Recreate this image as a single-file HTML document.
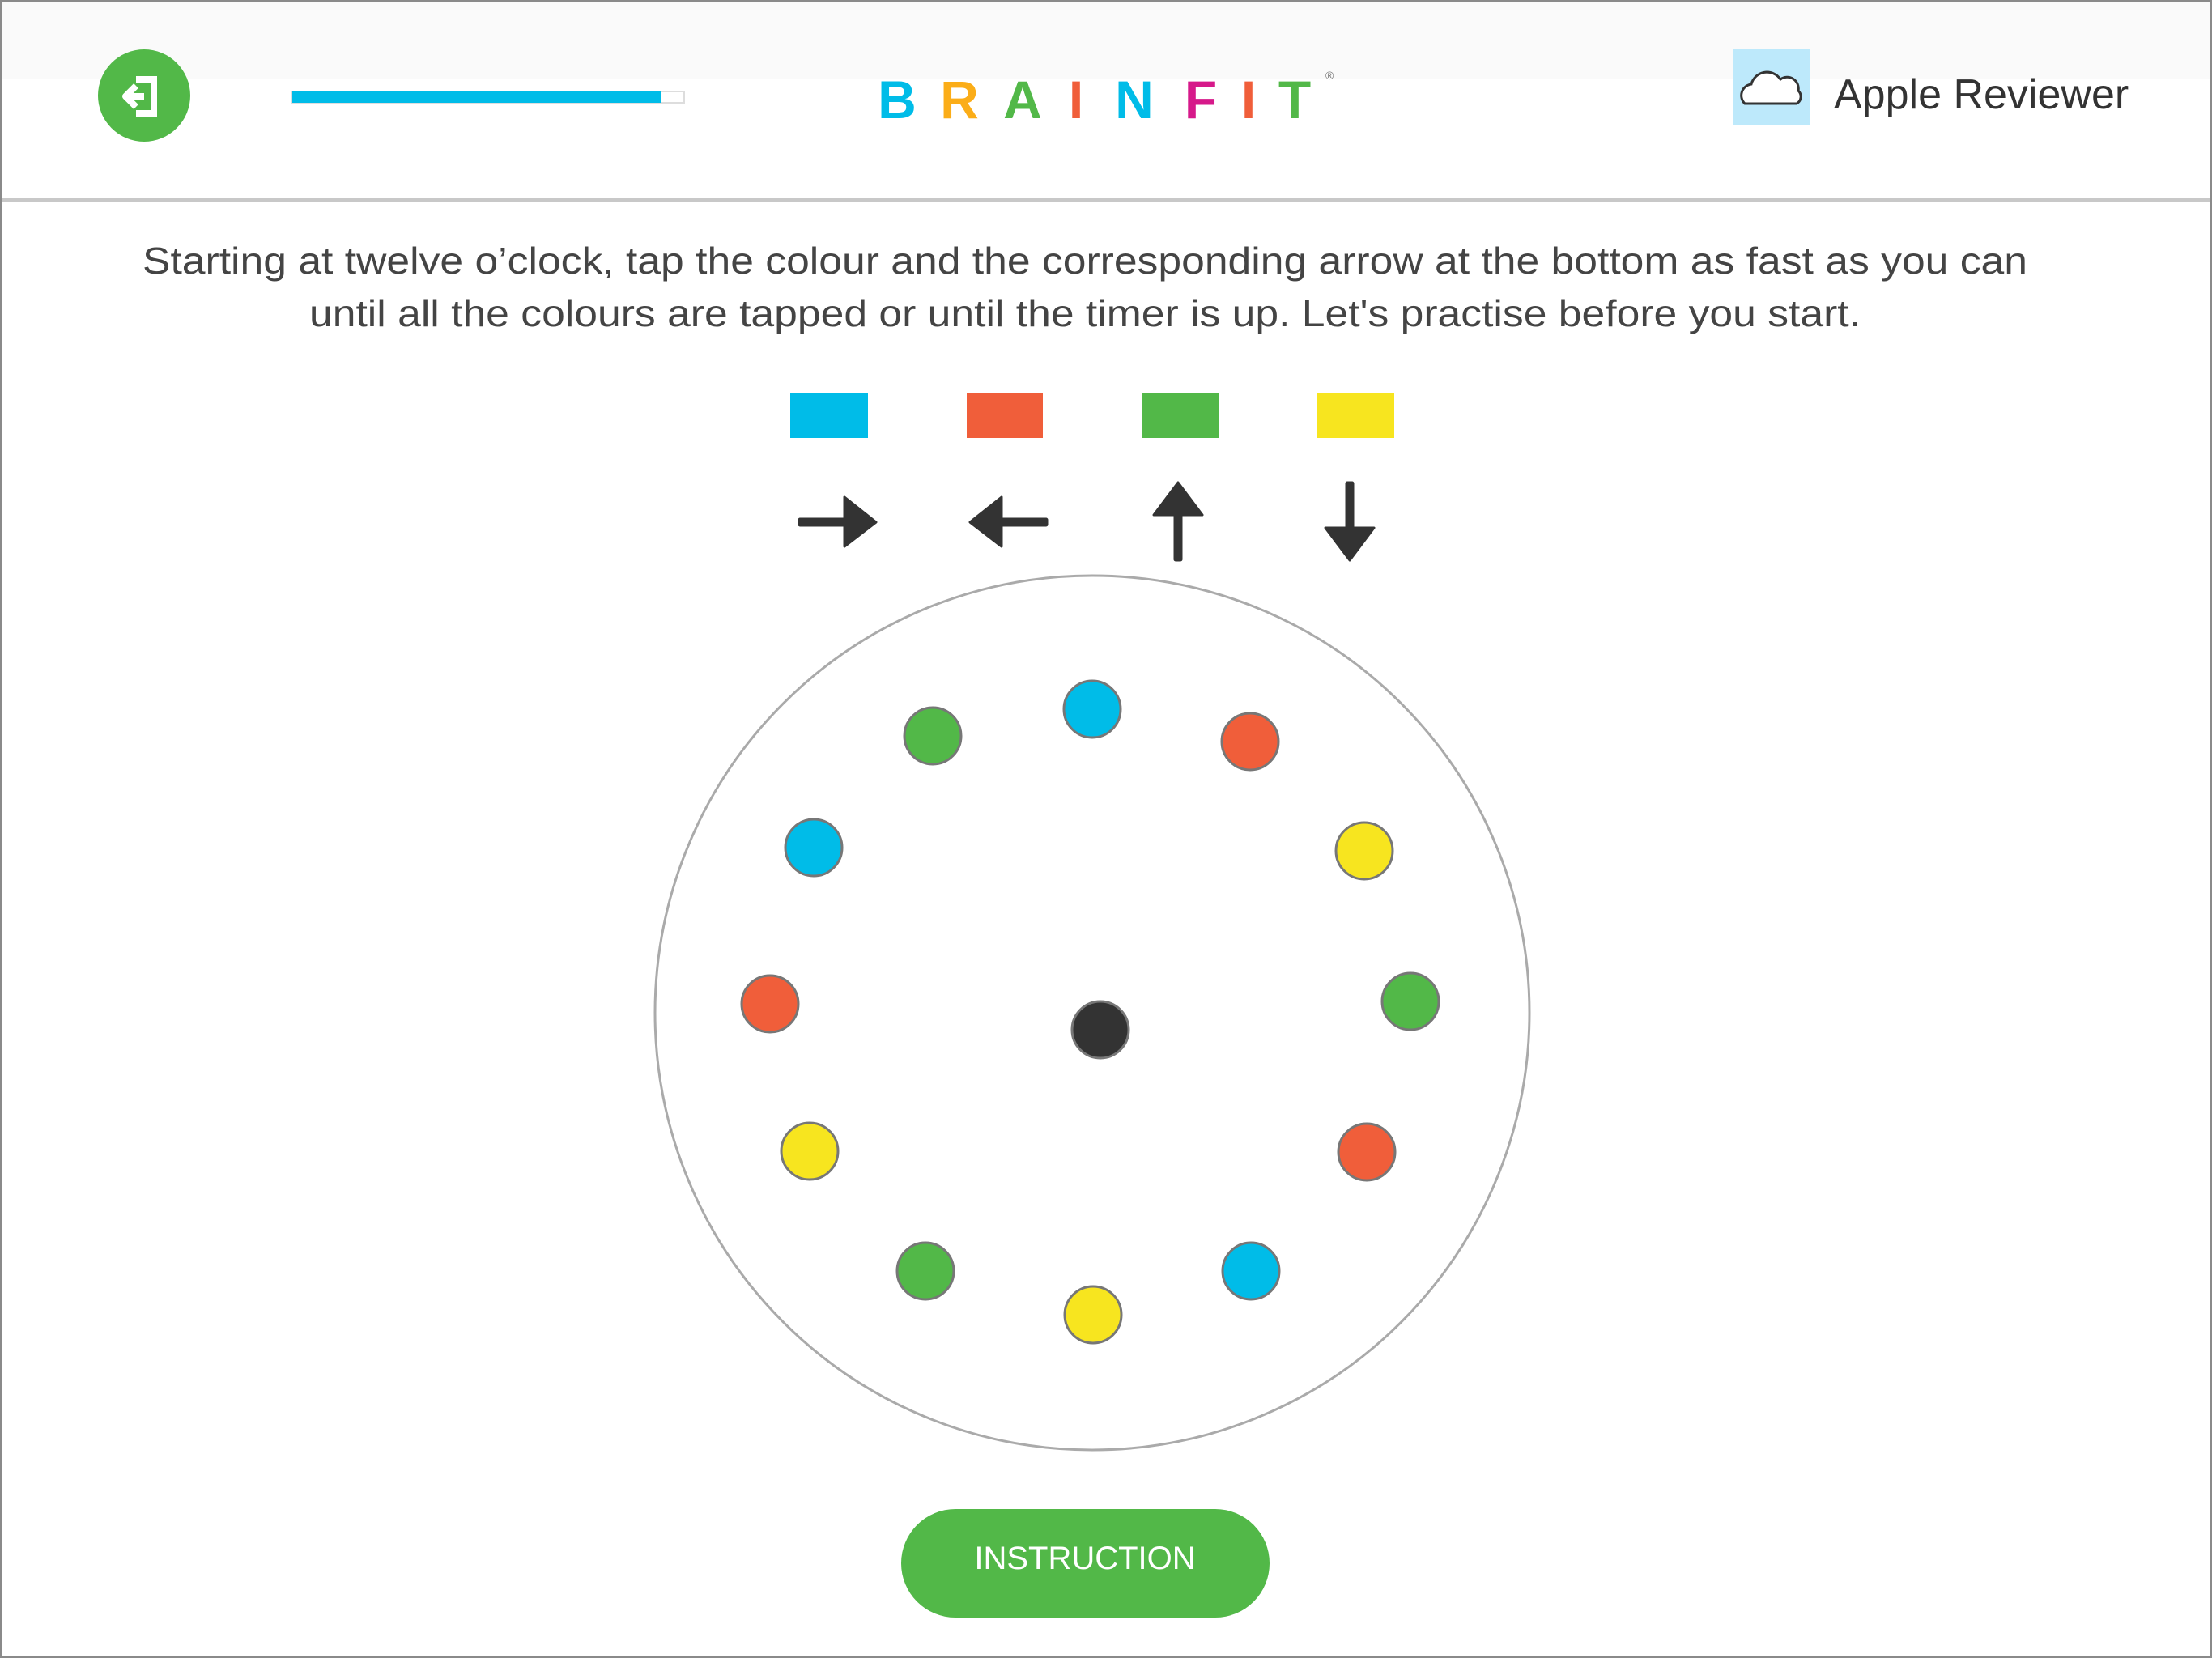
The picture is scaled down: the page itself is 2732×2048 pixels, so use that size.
<!DOCTYPE html>
<html><head><meta charset="utf-8"><style>
html,body{margin:0;padding:0;background:#fff;}
svg{display:block;}
</style></head><body>
<svg width="2732" height="2048" viewBox="0 0 2732 2048" xmlns="http://www.w3.org/2000/svg">
<rect x="0" y="0" width="2732" height="2048" fill="#fff"/>
<rect x="0" y="0" width="2732" height="97" fill="#fafafa"/>
<line x1="0" y1="247" x2="2732" y2="247" stroke="#c8c8c8" stroke-width="4"/>
<rect x="1" y="1" width="2730" height="2046" fill="none" stroke="#8a8a8a" stroke-width="2"/>

<circle cx="178" cy="118" r="57" fill="#52b848"/>
<path d="M168 98 h22 v42 h-22" fill="none" stroke="#fff" stroke-width="8"/>
<path d="M178 119 h-22 M168 106 l-13 13 l13 13" fill="none" stroke="#fff" stroke-width="8" stroke-linejoin="round"/>

<rect x="361" y="113" width="484" height="14" fill="#fff" stroke="#ddd" stroke-width="2"/>
<rect x="361" y="113" width="456" height="14" fill="#00bce8"/>

<g font-family="Liberation Sans, sans-serif" font-weight="bold" font-size="66" text-anchor="middle">
<text x="1108" y="146" fill="#00bce8">B</text>
<text x="1185" y="146" fill="#fbad18">R</text>
<text x="1263" y="146" fill="#52b848">A</text>
<text x="1329" y="146" fill="#f05e3a">I</text>
<text x="1401" y="146" fill="#00bce8">N</text>
<text x="1483" y="146" fill="#d6198a">F</text>
<text x="1542" y="146" fill="#f05e3a">I</text>
<text x="1599" y="146" fill="#52b848">T</text>
</g>
<text x="1637" y="98" font-family="Liberation Sans, sans-serif" font-size="14" fill="#777">®</text>

<rect x="2141" y="61" width="94" height="94" fill="#bde9fb"/>
<path d="M2155 128 a14 14 0 0 1 8 -24 a20 20 0 0 1 36 -6 a14 14 0 0 1 22 14 a10 10 0 0 1 -2 16 z" fill="#fff" stroke="#333" stroke-width="3"/>
<text x="2265" y="134" font-family="Liberation Sans, sans-serif" font-size="52" fill="#333">Apple Reviewer</text>

<g font-family="Liberation Sans, sans-serif" font-size="46" fill="#444" text-anchor="middle">
<text x="1340" y="338" textLength="2328" lengthAdjust="spacingAndGlyphs">Starting at twelve o’clock, tap the colour and the corresponding arrow at the bottom as fast as you can</text>
<text x="1340" y="403" textLength="1916" lengthAdjust="spacingAndGlyphs">until all the colours are tapped or until the timer is up. Let's practise before you start.</text>
</g>

<rect x="976" y="485" width="96" height="56" fill="#00bce8"/>
<rect x="1194" y="485" width="94" height="56" fill="#f05e3a"/>
<rect x="1410" y="485" width="95" height="56" fill="#52b848"/>
<rect x="1627" y="485" width="95" height="56" fill="#f7e51f"/>

<g fill="#333" stroke="#333" stroke-linejoin="round">
<rect x="986" y="640" width="58" height="10" rx="2"/>
<path d="M1043 614 L1082 645 L1043 675 Z" stroke-width="3"/>
<rect x="1236" y="640" width="58" height="10" rx="2"/>
<path d="M1237 614 L1198 645 L1237 675 Z" stroke-width="3"/>
<rect x="1450" y="634" width="10" height="59" rx="2"/>
<path d="M1455 596 L1485 636 L1425 636 Z" stroke-width="3"/>
<rect x="1662" y="595" width="10" height="58" rx="2"/>
<path d="M1667 692 L1697 652 L1637 652 Z" stroke-width="3"/>
</g>

<circle cx="1349" cy="1251" r="540" fill="none" stroke="#aaa" stroke-width="3"/>

<g stroke="#777" stroke-width="3">
<circle cx="1349" cy="876" r="35" fill="#00bce8"/>
<circle cx="1544" cy="916" r="35" fill="#f05e3a"/>
<circle cx="1685" cy="1051" r="35" fill="#f7e51f"/>
<circle cx="1742" cy="1237" r="35" fill="#52b848"/>
<circle cx="1688" cy="1423" r="35" fill="#f05e3a"/>
<circle cx="1545" cy="1570" r="35" fill="#00bce8"/>
<circle cx="1350" cy="1624" r="35" fill="#f7e51f"/>
<circle cx="1143" cy="1570" r="35" fill="#52b848"/>
<circle cx="1000" cy="1422" r="35" fill="#f7e51f"/>
<circle cx="951" cy="1240" r="35" fill="#f05e3a"/>
<circle cx="1005" cy="1047" r="35" fill="#00bce8"/>
<circle cx="1152" cy="909" r="35" fill="#52b848"/>
<circle cx="1359" cy="1272" r="35" fill="#333"/>
</g>

<rect x="1113" y="1864" width="455" height="134" rx="67" fill="#52b848"/>
<text x="1340" y="1938" font-family="Liberation Sans, sans-serif" font-size="40" fill="#fff" text-anchor="middle">INSTRUCTION</text>
</svg>
</body></html>
